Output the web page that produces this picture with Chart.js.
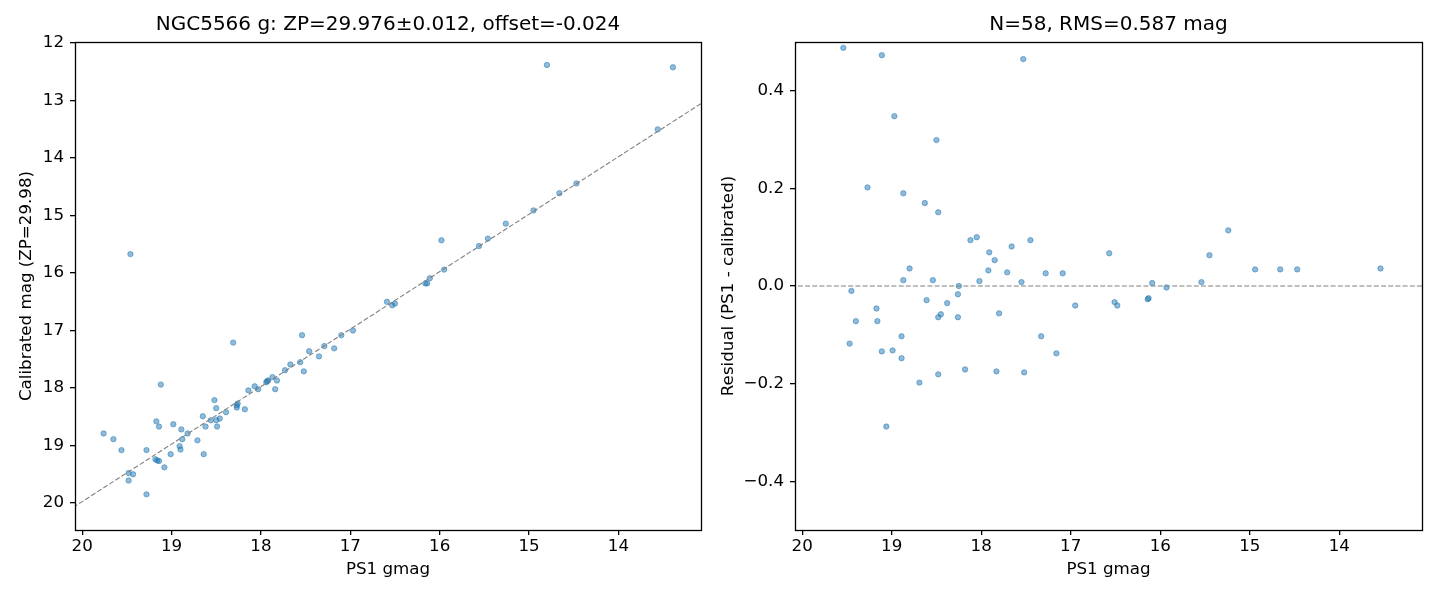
<!DOCTYPE html>
<html>
<head>
<meta charset="utf-8">
<title>NGC5566 g calibration</title>
<script src="https://cdn.jsdelivr.net/npm/chart.js@4.4.1/dist/chart.umd.min.js"></script>
<style>
html, body { margin: 0; padding: 0; background: #fff; overflow: hidden; }
#left { position: absolute; left: 0; top: 0; }
#right { position: absolute; left: 710px; top: 0; }
</style>
</head>
<body>
<canvas id="left" width="710" height="600"></canvas>
<canvas id="right" width="730" height="600"></canvas>
<script>
// PS1 gmag vs calibrated mag (left panel)
var calX = [19.76,19.65,19.56,19.28,19.48,19.43,19.48,19.28,19.18,19.16,
            19.14,19.08,19.17,19.14,19.12,19.01,18.98,18.89,18.88,18.91,
            18.90,18.82,18.71,18.64,18.65,18.62,18.56,18.52,18.50,18.50,
            18.49,18.46,18.39,18.31,18.27,18.26,18.27,18.18,18.14,18.07,
            18.03,17.94,17.92,17.93,17.87,17.84,17.82,17.73,17.67,17.56,
            17.54,17.52,17.46,17.35,17.29,17.18,17.10,16.97,16.59,16.53,
            16.50,16.16,16.14,16.11,15.98,15.95,15.56,15.46,15.26,14.95,
            14.66,14.47,13.56,14.80,13.39,19.46];
var calY = [18.79,18.89,19.08,19.08,19.48,19.50,19.61,19.85,19.24,19.26,
            19.27,19.38,18.58,18.67,17.94,19.15,18.63,18.72,18.89,19.01,
            19.07,18.79,18.91,19.15,18.49,18.67,18.56,18.21,18.35,18.56,
            18.67,18.53,18.42,17.21,18.34,18.27,18.30,18.37,18.04,17.97,
            18.02,17.90,17.87,17.88,17.81,18.02,17.87,17.69,17.59,17.55,
            17.08,17.71,17.36,17.45,17.27,17.31,17.08,17.00,16.50,16.56,
            16.53,16.18,16.18,16.09,15.43,15.94,15.53,15.40,15.14,14.91,
            14.61,14.44,13.50,12.38,12.42,15.67];

// PS1 gmag vs residual (right panel)
var resX = [19.54,19.11,17.53,18.97,18.50,19.27,18.87,18.63,18.48,18.12,
            18.05,17.91,17.66,17.45,16.57,17.85,18.80,17.92,17.71,17.28,
            17.09,18.87,18.54,18.02,17.55,18.25,19.45,19.17,18.61,18.38,
            18.26,19.40,19.16,18.45,18.48,18.26,17.80,16.95,16.51,16.48,
            18.89,19.47,19.11,18.99,18.89,17.33,17.16,18.69,18.48,18.18,
            17.83,17.52,19.06,16.14,16.13,16.09,15.93,15.54,15.45,15.24,
            14.94,14.66,14.47,13.54];
var resY = [0.488,0.473,0.465,0.348,0.299,0.202,0.190,0.170,0.151,0.094,
            0.100,0.069,0.081,0.094,0.067,0.053,0.036,0.032,0.028,0.026,
            0.026,0.012,0.012,0.010,0.008,0.000,-0.010,-0.046,-0.029,-0.035,
            -0.017,-0.072,-0.072,-0.058,-0.064,-0.064,-0.056,-0.040,-0.033,-0.040,
            -0.103,-0.118,-0.134,-0.132,-0.148,-0.103,-0.138,-0.198,-0.181,-0.171,
            -0.175,-0.177,-0.288,-0.027,-0.025,0.006,-0.003,0.008,0.063,0.114,
            0.034,0.034,0.034,0.036];

var xTicks = [20, 19, 18, 17, 16, 15, 14];
var calTicks = [12, 13, 14, 15, 16, 17, 18, 19, 20];
var resTicks = [-0.4, -0.2, 0.0, 0.2, 0.4];

var zpOffset = -0.024;
var xRange = [13.076, 20.08];

var ptFill = "rgba(31,119,180,0.5)";
var tickFont = { size: 16.7 };

Chart.defaults.font.family = "'DejaVu Sans', sans-serif";
Chart.defaults.color = "#000";

function pts(xs, ys) {
    return xs.map(function (x, i) { return { x: x, y: ys[i] }; });
}

// box around plot + title centred on the axes (matplotlib style)
var framePlugin = {
    id: "frame",
    afterLayout: function (chart) {
        var a = chart.chartArea;
        if (chart.titleBlock) {
            chart.titleBlock.left = a.left;
            chart.titleBlock.right = a.right;
        }
    },
    afterDraw: function (chart) {
        var a = chart.chartArea, ctx = chart.ctx;
        ctx.save();
        ctx.strokeStyle = "#000";
        ctx.lineWidth = 1.3;
        ctx.strokeRect(Math.round(a.left) + 0.5, Math.round(a.top) + 0.5,
                       Math.round(a.right - a.left), Math.round(a.bottom - a.top));
        ctx.restore();
    }
};

function tickGrid() {
    return { drawOnChartArea: false, drawTicks: true, tickLength: 5, color: "#000", lineWidth: 1.3 };
}

function fmtRes(v) {
    var s = Math.abs(v).toFixed(1);
    return v < -1e-9 ? "\u2212" + s : s;
}

function makeChart(id, cfg) {
    return new Chart(document.getElementById(id), {
        type: "scatter",
        data: {
            datasets: [
                {
                    data: cfg.points,
                    backgroundColor: ptFill,
                    borderColor: ptFill,
                    borderWidth: 1,
                    pointRadius: 2.7,
                    order: 1
                },
                {
                    data: cfg.line,
                    showLine: true,
                    borderColor: "#808080",
                    borderWidth: 1.1,
                    borderDash: [5, 2.2],
                    pointRadius: 0,
                    order: 0
                }
            ]
        },
        options: {
            responsive: false,
            animation: false,
            layout: { padding: { left: 0, right: cfg.padRight, top: 0, bottom: 0 } },
            plugins: {
                legend: { display: false },
                tooltip: { enabled: false },
                title: {
                    display: true,
                    text: cfg.title,
                    font: { size: 20, weight: "normal" },
                    padding: { top: 13, bottom: 5 }
                }
            },
            scales: {
                x: {
                    type: "linear",
                    reverse: true,
                    min: xRange[0],
                    max: xRange[1],
                    afterBuildTicks: function (s) { s.ticks = xTicks.map(function (v) { return { value: v }; }); },
                    afterFit: function (s) { s.height = 70; },
                    ticks: { font: tickFont, padding: 2 },
                    grid: tickGrid(),
                    border: { display: false },
                    title: { display: true, text: "PS1 gmag", font: tickFont, padding: { top: 0, bottom: 20 } }
                },
                y: {
                    type: "linear",
                    reverse: cfg.yReverse,
                    min: cfg.yMin,
                    max: cfg.yMax,
                    afterBuildTicks: function (s) { s.ticks = cfg.yTicks.map(function (v) { return { value: v }; }); },
                    afterFit: function (s) { s.width = cfg.yWidth; },
                    ticks: { font: tickFont, padding: 6, callback: cfg.yFmt },
                    grid: tickGrid(),
                    border: { display: false },
                    title: { display: true, text: cfg.yLabel, font: tickFont, padding: { top: cfg.yTitlePad, bottom: 0 } }
                }
            }
        },
        plugins: [framePlugin]
    });
}

makeChart("left", {
    title: "NGC5566 g: ZP=29.976\u00b10.012, offset=-0.024",
    points: pts(calX, calY),
    line: xRange.map(function (x) { return { x: x, y: x + zpOffset }; }),
    yMin: 11.98, yMax: 20.47, yReverse: true,
    yTicks: calTicks,
    yFmt: function (v) { return String(v); },
    yLabel: "Calibrated mag (ZP=29.98)",
    yWidth: 75, yTitlePad: 17, padRight: 9
});

makeChart("right", {
    title: "N=58, RMS=0.587 mag",
    points: pts(resX, resY),
    line: xRange.map(function (x) { return { x: x, y: 0 }; }),
    yMin: -0.5, yMax: 0.5, yReverse: false,
    yTicks: resTicks,
    yFmt: fmtRes,
    yLabel: "Residual (PS1 - calibrated)",
    yWidth: 85, yTitlePad: 9, padRight: 18
});
</script>
</body>
</html>
